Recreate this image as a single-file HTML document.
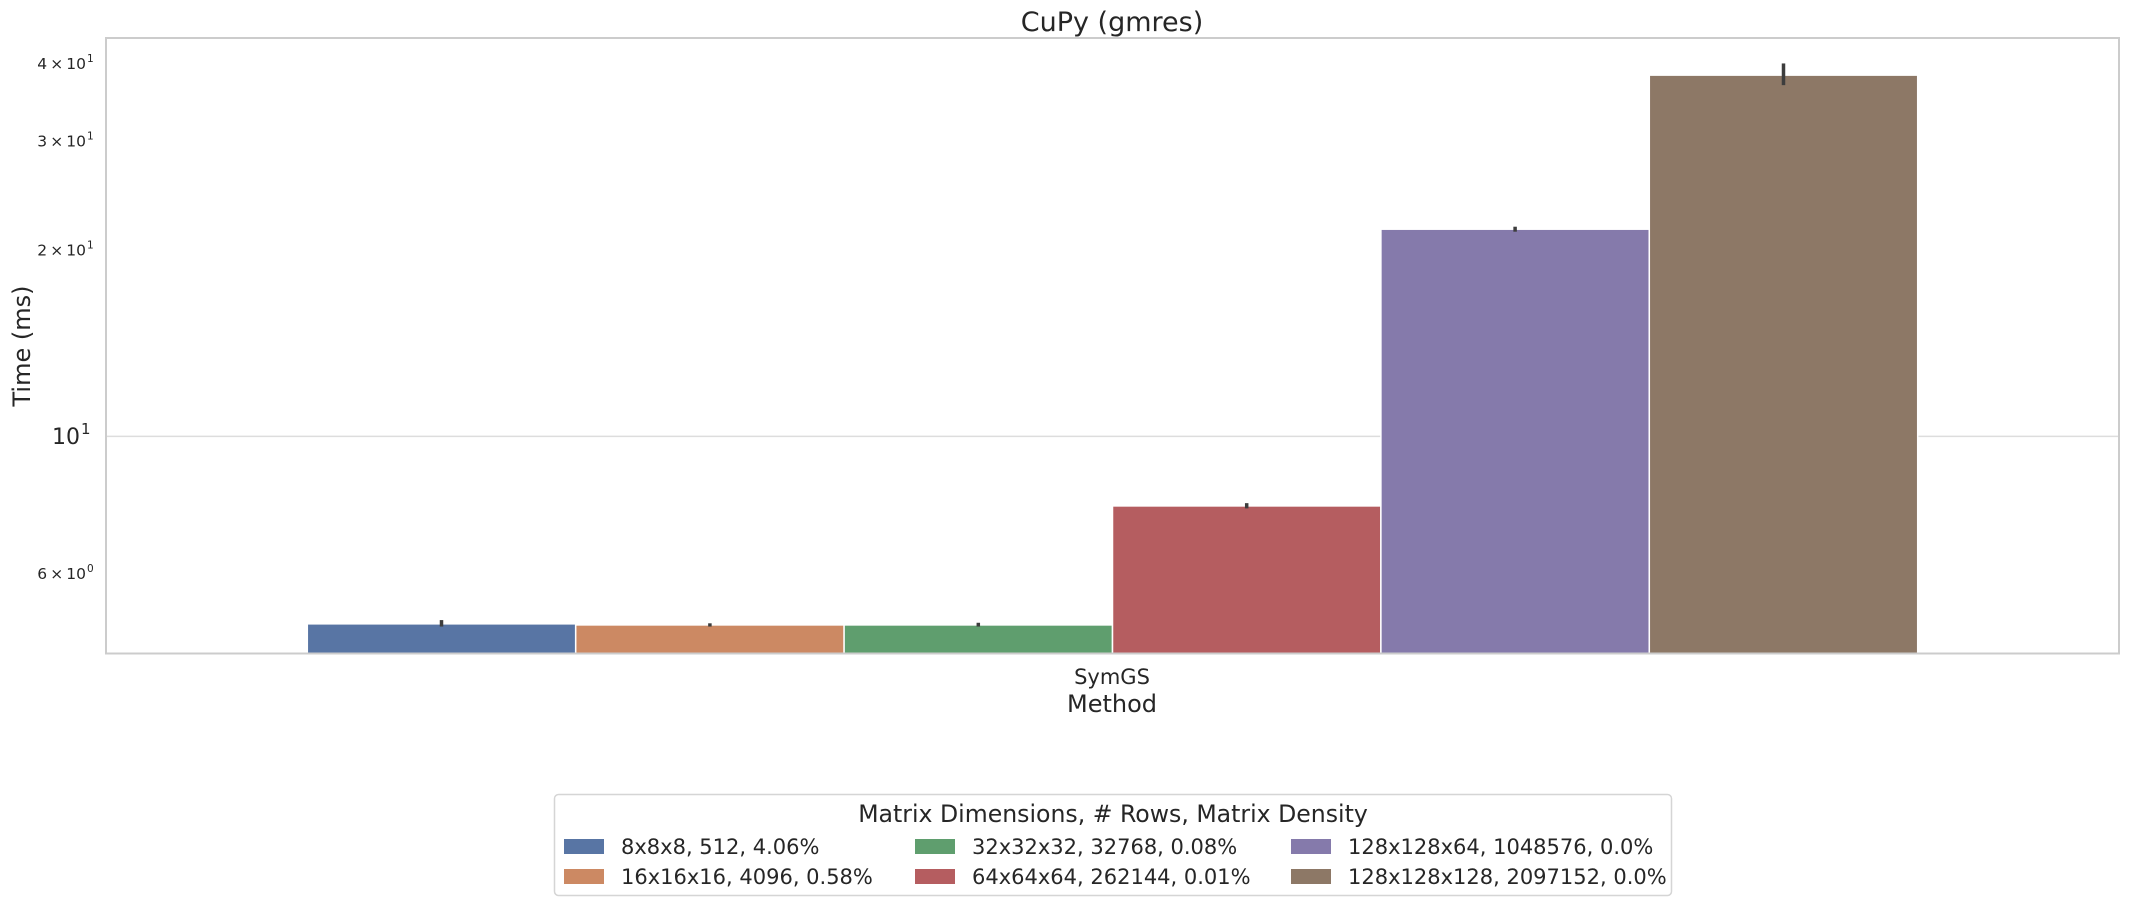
<!DOCTYPE html>
<html><head><meta charset="utf-8"><style>
html,body{margin:0;padding:0;background:#fff;}
svg{display:block;font-family:"DejaVu Sans","Liberation Sans",sans-serif;}
</style></head><body>
<svg id="chart" width="2130" height="906" viewBox="0 0 2130 906">
<rect x="0" y="0" width="2130" height="906" fill="#fff"/>
<text x="1112" y="31" font-size="27" text-anchor="middle" fill="#262626">CuPy (gmres)</text>
<g id="grid"></g>
<g id="bars"></g>
<rect x="106" y="38" width="2013" height="615.5" fill="none" stroke="#cccccc" stroke-width="2"/>
<g id="yticks"></g>
<text transform="translate(30,346) rotate(-90)" font-size="24" text-anchor="middle" fill="#262626">Time (ms)</text>
<text x="1112" y="684" font-size="21" text-anchor="middle" fill="#262626">SymGS</text>
<text x="1112" y="712" font-size="24" text-anchor="middle" fill="#262626">Method</text>
<g>
<rect x="554.5" y="794.5" width="1117" height="101" rx="4" fill="#fff" stroke="#d5d5d5" stroke-width="1.5"/>
<text x="1113" y="822" font-size="23.6" text-anchor="middle" fill="#262626">Matrix Dimensions, # Rows, Matrix Density</text>
<g id="legend-items"></g>
</g>
</svg>
<script>
const categories = ["8x8x8, 512, 4.06%","16x16x16, 4096, 0.58%","32x32x32, 32768, 0.08%","64x64x64, 262144, 0.01%","128x128x64, 1048576, 0.0%","128x128x128, 2097152, 0.0%"];
const values = [4.98, 4.96, 4.96, 7.72, 21.6, 38.3];
const errLow = [4.93, 4.93, 4.93, 7.65, 21.4, 36.9];
const errHigh = [5.05, 4.99, 5.0, 7.80, 21.8, 40.0];
const colors = ["#5875a4","#cc8963","#5f9e6e","#b55d60","#857aab","#8d7866"];
const tickValues = [40, 30, 20, 10, 6];
const tickLabels = ["4\u2009\u00d7\u200910","3\u2009\u00d7\u200910","2\u2009\u00d7\u200910","10","6\u2009\u00d7\u200910"];
const tickExps = ["1","1","1","1","0"];

const NS="http://www.w3.org/2000/svg";
const plotL=106, plotR=2119, plotT=38, plotB=653.5;
const yMin=Math.log10(4.46), yMax=Math.log10(43.97);
function y(v){return plotB-(Math.log10(v)-yMin)/(yMax-yMin)*(plotB-plotT);}
const groupW=(plotR-plotL)*0.8, groupX=(plotL+plotR)/2-groupW/2, bw=groupW/categories.length;
function x(i){return groupX+i*bw;}
function mk(tag,attrs,parent){const e=document.createElementNS(NS,tag);for(const k in attrs)e.setAttribute(k,attrs[k]);parent.appendChild(e);return e;}

const grid=document.getElementById('grid');
const gl=mk('line',{x1:plotL,x2:plotR,y1:y(10),y2:y(10),stroke:'#dddddd','stroke-width':1.5},grid);



const yt=document.getElementById('yticks');
tickValues.forEach((v,i)=>{
  const major = tickLabels[i]==="10";
  const fs = major?22:15.5;
  const t=mk('text',{x: major?80:86, y:y(v)+fs*0.35, 'font-size':fs,'text-anchor':'end',fill:'#262626'},yt);
  
  
  t.textContent=tickLabels[i];
  const s=mk('text',{x:major?81:87,y:y(v)+fs*0.35-fs*0.45,'font-size':fs*0.68,'text-anchor':'start',fill:'#262626'},yt);
  
  
  s.textContent=tickExps[i];
});

const bars=document.getElementById('bars');
values.forEach((v,i)=>{
  const r=mk('rect',{x:x(i),y:y(v),width:bw,height:plotB-y(v),fill:colors[i],stroke:'#fff','stroke-width':1.5},bars);
  
  
  const e=mk('line',{x1:x(i)+bw/2,x2:x(i)+bw/2,y1:y(errLow[i]),y2:y(errHigh[i]),stroke:'#3d3d3d','stroke-width':3.5},bars);
  
  
});

const li=document.getElementById('legend-items');
const colX=[564,915,1291], rowY=[846,876];
categories.forEach((c,i)=>{
  const col=Math.floor(i/2), row=i%2;
  const p=mk('rect',{x:colX[col],y:rowY[row]-7,width:40,height:15,fill:colors[i]},li);
  
  
  const t=mk('text',{x:colX[col]+57,y:rowY[row]+8,'font-size':21,fill:'#262626'},li);
  
  
  t.textContent=c;
});
</script>
</body></html>
